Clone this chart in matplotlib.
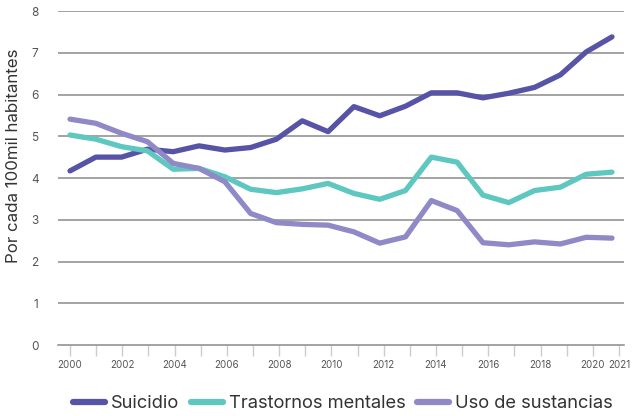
import matplotlib
matplotlib.use("Agg")
import matplotlib.pyplot as plt
import numpy as np

plt.rcParams['font.family'] = ['Inter', 'DejaVu Sans']

years = list(range(2000, 2022))
suicidio = [4.17, 4.50, 4.50, 4.69, 4.63, 4.77, 4.67, 4.73, 4.93, 5.37, 5.11,
            5.71, 5.49, 5.72, 6.04, 6.04, 5.92, 6.03, 6.17, 6.47, 7.02, 7.38]
trastornos = [5.03, 4.93, 4.75, 4.65, 4.21, 4.23, 4.03, 3.73, 3.65, 3.74, 3.87,
              3.63, 3.49, 3.70, 4.50, 4.38, 3.59, 3.41, 3.70, 3.78, 4.09, 4.14]
sustancias = [5.41, 5.31, 5.07, 4.87, 4.35, 4.23, 3.91, 3.15, 2.93, 2.89, 2.87,
              2.71, 2.44, 2.59, 3.46, 3.22, 2.45, 2.40, 2.47, 2.42, 2.58, 2.56]
series_names = ["Suicidio", "Trastornos mentales", "Uso de sustancias"]
colors = ["#5753a6", "#5ec8c0", "#8f89c7"]
tick_labels = ["2000", "", "2002", "", "2004", "", "2006", "", "2008", "", "2010",
               "", "2012", "", "2014", "", "2016", "", "2018", "", "2020", "2021"]
y_ticks = [0, 1, 2, 3, 4, 5, 6, 7, 8]

fig = plt.figure(figsize=(6.34, 4.16), dpi=100)
ax = fig.add_axes([58/634, 1 - 345/416, (624-58)/634, (345-11)/416])

for vals, name, c in zip([suicidio, trastornos, sustancias], series_names, colors):
    ax.plot(years, vals, color=c, lw=3.8, label=name, solid_capstyle='round',
            solid_joinstyle='round')

px_per_year = 25.8
ax.set_xlim(2000 - 12/px_per_year, 2021 + 12/px_per_year)
ax.set_ylim(0, 8)
ax.set_yticks(y_ticks)
ax.set_yticklabels([str(v) for v in y_ticks], fontsize=8.5, color="#555555")
for v in y_ticks[1:]:
    ax.axhline(v, color="#8a8a8a", lw=1.1, zorder=0)

scale = 549/542
tick_pos = [2000 + (y - 2000) * scale for y in years]
ax.set_xticks(tick_pos)
ax.set_xticklabels(tick_labels, fontsize=7, color="#555555")
ax.tick_params(axis='x', length=8, width=1, color="#cccccc", pad=3)
ax.tick_params(axis='y', length=0, pad=14)

for s in ['top', 'right', 'left']:
    ax.spines[s].set_visible(False)
ax.spines['bottom'].set_color("#8a8a8a")
ax.spines['bottom'].set_linewidth(1.1)

fig.text(14/634, 1 - 156/416, "Por cada 100mil habitantes", rotation=90,
         fontsize=12.2, color="#333333", ha='center', va='center')

leg = fig.legend(loc='center', bbox_to_anchor=(343/634, 1 - 404/416), ncol=3,
                 frameon=False, fontsize=13.2, handlelength=1.75, handletextpad=0.35,
                 columnspacing=0.6, labelcolor="#333333")
for h in leg.get_lines():
    h.set_linewidth(4.5)
    h.set_solid_capstyle('round')

fig.savefig("out.png", dpi=100)
